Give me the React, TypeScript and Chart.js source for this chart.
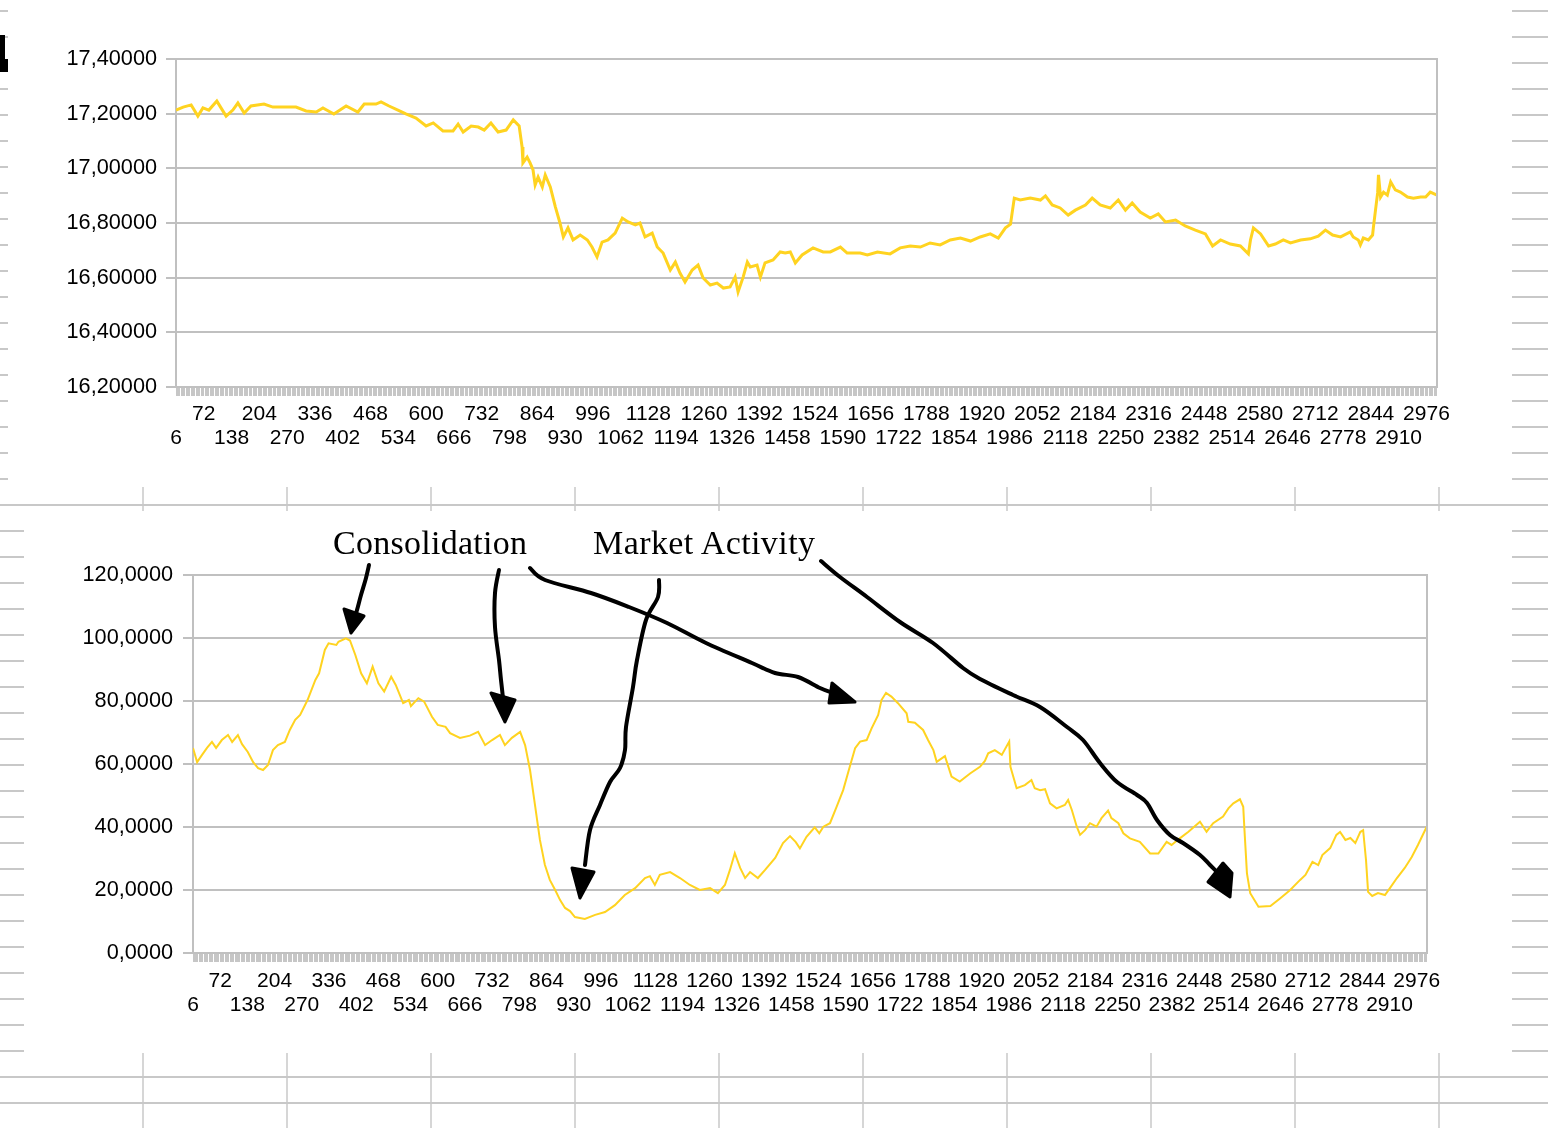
import React, { useEffect, useRef } from 'react';
import { Chart, registerables } from 'chart.js';

Chart.register(...registerables);

// ---------- DATA ----------
const tickLabels = [6, 72, 138, 204, 270, 336, 402, 468, 534, 600, 666, 732, 798, 864, 930, 996, 1062, 1128, 1194, 1260, 1326, 1392, 1458, 1524, 1590, 1656, 1722, 1788, 1854, 1920, 1986, 2052, 2118, 2184, 2250, 2316, 2382, 2448, 2514, 2580, 2646, 2712, 2778, 2844, 2910, 2976];

const priceIndex = [6, 23, 42, 58, 70, 84, 103, 125, 141, 153, 168, 184, 215, 236, 260, 291, 315, 339, 355, 381, 410, 438, 453, 481, 493, 512, 533, 552, 576, 600, 617, 640, 664, 676, 688, 707, 724, 738, 754, 771, 790, 807, 821, 828, 830, 840, 847, 854, 859, 866, 876, 883, 895, 907, 918, 926, 937, 949, 966, 983, 994, 1006, 1018, 1032, 1049, 1066, 1080, 1097, 1108, 1120, 1137, 1149, 1163, 1180, 1192, 1203, 1215, 1232, 1246, 1258, 1275, 1291, 1306, 1322, 1334, 1341, 1353, 1363, 1370, 1386, 1394, 1405, 1424, 1441, 1453, 1465, 1477, 1493, 1519, 1543, 1560, 1584, 1600, 1631, 1648, 1672, 1702, 1726, 1750, 1774, 1797, 1821, 1845, 1869, 1893, 1916, 1940, 1959, 1976, 1988, 1997, 2011, 2035, 2059, 2071, 2087, 2106, 2125, 2142, 2166, 2182, 2201, 2225, 2244, 2261, 2277, 2296, 2320, 2339, 2356, 2380, 2403, 2427, 2451, 2468, 2487, 2510, 2534, 2553, 2558, 2565, 2582, 2601, 2617, 2636, 2653, 2677, 2700, 2719, 2736, 2753, 2772, 2795, 2802, 2814, 2819, 2826, 2838, 2848, 2850, 2855, 2860, 2862, 2867, 2874, 2883, 2891, 2902, 2914, 2931, 2945, 2962, 2974, 2985, 3001];

const priceValues = [17.213, 17.224, 17.232, 17.191, 17.221, 17.213, 17.246, 17.191, 17.213, 17.239, 17.202, 17.228, 17.235, 17.224, 17.224, 17.224, 17.210, 17.206, 17.221, 17.199, 17.228, 17.206, 17.235, 17.235, 17.243, 17.228, 17.213, 17.199, 17.184, 17.155, 17.166, 17.137, 17.137, 17.162, 17.133, 17.155, 17.151, 17.140, 17.166, 17.133, 17.140, 17.177, 17.155, 17.078, 17.020, 17.041, 17.020, 16.994, 16.939, 16.968, 16.932, 16.976, 16.932, 16.859, 16.800, 16.749, 16.782, 16.738, 16.756, 16.738, 16.712, 16.676, 16.730, 16.738, 16.763, 16.818, 16.804, 16.793, 16.800, 16.749, 16.763, 16.712, 16.690, 16.628, 16.657, 16.617, 16.584, 16.628, 16.646, 16.599, 16.573, 16.580, 16.562, 16.566, 16.602, 16.548, 16.602, 16.657, 16.639, 16.646, 16.602, 16.654, 16.665, 16.694, 16.690, 16.694, 16.654, 16.683, 16.709, 16.694, 16.694, 16.712, 16.690, 16.690, 16.683, 16.694, 16.687, 16.709, 16.716, 16.712, 16.727, 16.720, 16.738, 16.745, 16.734, 16.749, 16.760, 16.745, 16.782, 16.796, 16.891, 16.884, 16.891, 16.884, 16.899, 16.866, 16.855, 16.829, 16.847, 16.866, 16.891, 16.866, 16.855, 16.884, 16.847, 16.873, 16.840, 16.818, 16.833, 16.804, 16.811, 16.789, 16.774, 16.760, 16.716, 16.738, 16.723, 16.716, 16.687, 16.738, 16.782, 16.760, 16.716, 16.723, 16.738, 16.727, 16.738, 16.742, 16.752, 16.774, 16.756, 16.749, 16.767, 16.749, 16.738, 16.720, 16.745, 16.738, 16.756, 16.785, 16.848, 16.910, 16.976, 16.895, 16.913, 16.902, 16.950, 16.921, 16.913, 16.895, 16.891, 16.895, 16.895, 16.913, 16.902];

const activityIndex = [6, 16, 28, 40, 52, 62, 76, 91, 101, 115, 125, 139, 152, 164, 176, 188, 200, 212, 229, 241, 254, 266, 284, 303, 312, 326, 335, 354, 359, 377, 387, 400, 414, 428, 442, 456, 470, 487, 498, 516, 530, 535, 553, 567, 586, 600, 619, 630, 654, 678, 698, 715, 732, 751, 763, 780, 800, 812, 824, 836, 848, 860, 872, 885, 897, 909, 921, 933, 957, 982, 1006, 1030, 1054, 1079, 1103, 1115, 1127, 1139, 1164, 1188, 1212, 1236, 1261, 1280, 1297, 1309, 1321, 1334, 1346, 1358, 1377, 1394, 1419, 1438, 1455, 1469, 1479, 1495, 1515, 1526, 1536, 1552, 1568, 1584, 1600, 1613, 1625, 1641, 1653, 1669, 1677, 1688, 1701, 1717, 1738, 1742, 1758, 1778, 1790, 1803, 1811, 1831, 1847, 1867, 1892, 1916, 1928, 1936, 1952, 1969, 1987, 1990, 2005, 2025, 2041, 2049, 2062, 2074, 2086, 2102, 2122, 2130, 2139, 2151, 2159, 2171, 2183, 2199, 2211, 2227, 2235, 2252, 2264, 2280, 2304, 2329, 2349, 2369, 2381, 2401, 2422, 2450, 2466, 2482, 2506, 2519, 2531, 2547, 2555, 2558, 2564, 2572, 2592, 2621, 2645, 2669, 2693, 2706, 2723, 2737, 2747, 2766, 2781, 2790, 2803, 2815, 2827, 2839, 2846, 2853, 2858, 2868, 2882, 2899, 2911, 2928, 2947, 2964, 2979, 2993, 3001];

const activityValues = [65.1, 60.6, 62.9, 65.1, 67.0, 65.1, 67.6, 69.2, 67.0, 69.2, 66.3, 63.8, 60.6, 58.7, 58.1, 59.7, 64.4, 66.0, 67.0, 70.8, 74.0, 75.6, 80.3, 86.7, 88.8, 96.2, 98.3, 97.8, 98.8, 99.9, 99.2, 94.6, 88.8, 85.6, 90.9, 85.6, 83.0, 87.7, 85.1, 79.3, 80.3, 78.4, 80.9, 79.8, 75.0, 72.4, 71.8, 69.8, 68.3, 69.0, 70.2, 66.0, 67.6, 69.2, 66.0, 68.3, 70.2, 66.0, 58.1, 47.0, 35.9, 28.0, 23.2, 20.0, 16.8, 14.3, 13.3, 11.4, 10.8, 12.1, 13.0, 15.2, 18.4, 20.6, 23.8, 24.4, 21.6, 24.8, 25.7, 23.8, 21.6, 20.0, 20.6, 19.0, 21.6, 26.3, 31.7, 27.0, 23.8, 25.7, 23.8, 26.3, 30.2, 34.9, 37.1, 35.2, 33.2, 36.9, 39.9, 38.0, 40.1, 41.2, 46.4, 51.7, 59.1, 65.0, 67.1, 67.6, 71.3, 75.6, 80.3, 82.6, 81.4, 79.3, 76.1, 73.4, 73.1, 70.8, 67.6, 64.4, 60.7, 62.5, 56.0, 54.4, 57.0, 59.1, 61.0, 63.4, 64.4, 62.9, 67.1, 59.1, 52.3, 53.3, 54.9, 52.3, 51.7, 52.0, 47.5, 45.9, 47.0, 48.6, 45.4, 40.1, 37.5, 39.0, 41.2, 40.1, 42.8, 45.2, 42.8, 41.2, 38.0, 36.4, 35.3, 31.6, 31.6, 35.3, 34.3, 36.4, 38.5, 41.7, 38.5, 41.2, 43.3, 45.9, 47.5, 48.8, 46.4, 39.0, 25.3, 19.0, 14.7, 14.9, 17.4, 20.0, 23.2, 24.8, 28.9, 27.9, 31.1, 33.3, 37.5, 38.4, 35.9, 36.5, 34.9, 38.4, 39.0, 29.5, 19.4, 18.1, 19.0, 18.4, 20.6, 23.8, 27.0, 30.5, 34.3, 38.1, 40.3];

const X_FIRST = 6;
const X_LAST = 3001;

// ---------- CHART ----------
const GRID = '#c0c0c0';
const LINE = '#ffd320';
const FONT = "'Liberation Sans', Arial, sans-serif";

const framePlugin = {
  id: 'frameRight',
  afterDatasetsDraw(chart: any) {
    const { ctx, chartArea } = chart;
    ctx.save();
    ctx.strokeStyle = GRID;
    ctx.lineWidth = 2;
    ctx.beginPath();
    ctx.moveTo(chartArea.right, chartArea.top - 1);
    ctx.lineTo(chartArea.right, chartArea.bottom);
    ctx.stroke();
    ctx.restore();
  },
};

type Props = {
  left: number; top: number; width: number; height: number;
  index: number[]; values: number[];
  yMin: number; yMax: number; yStep: number; decimals: number;
  lineWidth: number; yAxisWidth: number; padTop: number; padRight: number;
  xAxisHeight: number; xTickLen: number; xTickPad: number; yTickPad: number;
};

function LineChart(p: Props) {
  const ref = useRef<HTMLCanvasElement | null>(null);
  useEffect(() => {
    if (!ref.current) return;
    const chart = new Chart(ref.current, {
      type: 'line',
      data: {
        datasets: [{
          data: p.index.map((x, i) => ({ x, y: p.values[i] })),
          borderColor: LINE,
          borderWidth: p.lineWidth,
          pointRadius: 0,
          tension: 0,
          fill: false,
        }],
      },
      options: {
        animation: false,
        responsive: false,
        devicePixelRatio: 1,
        layout: { padding: { top: p.padTop, right: p.padRight, left: 0, bottom: 0 } },
        plugins: { legend: { display: false }, tooltip: { enabled: false } },
        scales: {
          x: {
            type: 'linear',
            min: X_FIRST,
            max: X_LAST,
            afterBuildTicks: (scale: any) => {
              const t: any[] = [];
              for (let v = X_FIRST; v <= X_LAST; v += 3) t.push({ value: v });
              scale.ticks = t;
            },
            afterFit: (scale: any) => { scale.height = p.xAxisHeight; },
            grid: { drawOnChartArea: false, drawTicks: true, tickLength: p.xTickLen, color: '#c6c6c6', lineWidth: 1 },
            border: { display: true, color: GRID, width: 2 },
            ticks: {
              autoSkip: false,
              maxRotation: 0,
              minRotation: 0,
              padding: p.xTickPad,
              color: '#000',
              font: { family: FONT, size: 21, lineHeight: 1.15 },
              callback: (v: any) => {
                const k = tickLabels.indexOf(Number(v));
                if (k < 0) return '';
                return k % 2 === 1 ? [String(tickLabels[k]), ''] : ['', String(tickLabels[k])];
              },
            },
          },
          y: {
            min: p.yMin,
            max: p.yMax,
            afterFit: (scale: any) => { scale.width = p.yAxisWidth; },
            grid: { color: GRID, lineWidth: 2, tickLength: 10, drawTicks: true },
            border: { display: true, color: GRID, width: 2 },
            ticks: {
              stepSize: p.yStep,
              padding: p.yTickPad,
              color: '#000',
              font: { family: FONT, size: 21.7 },
              callback: (v: any) => Number(v).toFixed(p.decimals).replace('.', ','),
            },
          },
        },
      },
      plugins: [framePlugin],
    } as any);
    return () => chart.destroy();
  }, []);
  return (
    <canvas
      ref={ref}
      width={p.width}
      height={p.height}
      style={{ position: 'absolute', left: p.left, top: p.top, width: p.width, height: p.height, background: '#fff', zIndex: 1 }}
    />
  );
}

// ---------- PAGE DECORATION ----------
function SheetGrid() {
  const rows: number[] = [];
  for (let y = 11; y < 1128; y += 26) rows.push(y);
  const cols: number[] = [];
  for (let x = 143; x < 1548; x += 144) cols.push(x);
  return (
    <svg width={1548} height={1128} style={{ position: 'absolute', left: 0, top: 0, zIndex: 0 }}>
      {rows.map((y) => <line key={'r' + y} x1={0} x2={1548} y1={y} y2={y} stroke="#c8c8c8" strokeWidth={2} />)}
      {cols.map((x) => <line key={'c' + x} x1={x} x2={x} y1={0} y2={1128} stroke="#c8c8c8" strokeWidth={1.5} />)}
    </svg>
  );
}

const pts = (a: number[][]) => a.map((q) => q.join(',')).join(' ');

// smooth freehand stroke through points (Catmull-Rom -> cubic Bezier)
function smooth(a: number[][]) {
  let d = `M${a[0][0]},${a[0][1]}`;
  for (let i = 0; i < a.length - 1; i++) {
    const p0 = a[Math.max(0, i - 1)];
    const p1 = a[i];
    const p2 = a[i + 1];
    const p3 = a[Math.min(a.length - 1, i + 2)];
    const c1x = p1[0] + (p2[0] - p0[0]) / 6;
    const c1y = p1[1] + (p2[1] - p0[1]) / 6;
    const c2x = p2[0] - (p3[0] - p1[0]) / 6;
    const c2y = p2[1] - (p3[1] - p1[1]) / 6;
    d += ` C${c1x.toFixed(1)},${c1y.toFixed(1)} ${c2x.toFixed(1)},${c2y.toFixed(1)} ${p2[0]},${p2[1]}`;
  }
  return d;
}

function Annotations() {
  const stroke = { fill: 'none', stroke: '#000', strokeWidth: 4, strokeLinecap: 'round' as const, strokeLinejoin: 'round' as const };
  const head = { fill: '#000', stroke: '#000', strokeWidth: 3, strokeLinejoin: 'round' as const };
  return (
    <svg width={1548} height={1128} style={{ position: 'absolute', left: 0, top: 0, zIndex: 2, pointerEvents: 'none' }}>
      <path d="M0,35 L5,35 L5,59 L8,59 L8,72 L0,72 Z" fill="#000" />
      <text x={333} y={554} fontFamily="'Liberation Serif', 'Times New Roman', serif" fontSize={34} textLength={194} lengthAdjust="spacing" fill="#000">Consolidation</text>
      <text x={593} y={554} fontFamily="'Liberation Serif', 'Times New Roman', serif" fontSize={34} textLength={222} lengthAdjust="spacing" fill="#000">Market Activity</text>
      {/* arrow 1 */}
      <path d={smooth([[369, 565], [366, 578], [361, 595], [357, 610], [354, 620]])} {...stroke} />
      <polygon points={pts([[344, 609], [364, 616], [351, 633]])} {...head} />
      {/* arrow 2 */}
      <path d={smooth([[499, 570], [495, 593], [495, 627], [499, 660], [501, 680], [503, 698]])} {...stroke} />
      <polygon points={pts([[491, 693], [515, 700], [505, 722]])} {...head} />
      {/* arrow 3 */}
      <path d={smooth([[530, 568], [545, 580], [591, 593], [629, 607], [667, 623], [706, 643], [752, 663], [775, 673], [798, 677], [820, 688], [833, 693]])} {...stroke} />
      <polygon points={pts([[832, 683], [829, 703], [855, 702]])} {...head} />
      {/* arrow 4 */}
      <path d={smooth([[659, 580], [658, 597], [646, 620], [637, 660], [633, 687], [626, 727], [625, 750], [620, 768], [610, 782], [600, 805], [590, 830], [585, 865]])} {...stroke} />
      <polygon points={pts([[572, 868], [594, 872], [580, 898]])} {...head} />
      {/* arrow 5 */}
      <path d={smooth([[821, 561], [840, 577], [867, 597], [900, 622], [933, 643], [963, 668], [980, 679], [1013, 695], [1040, 707], [1067, 727], [1083, 740], [1100, 763], [1117, 782], [1137, 795], [1147, 803], [1157, 820], [1170, 835], [1183, 843], [1200, 855], [1210, 865], [1222, 877]])} {...stroke} />
      <polygon points={pts([[1223, 863], [1208, 882], [1230, 897], [1232, 873]])} {...head} />
    </svg>
  );
}

export default function App() {
  return (
    <div style={{ position: 'absolute', left: 0, top: 0, width: 1548, height: 1128, background: '#fff', overflow: 'hidden' }}>
      <SheetGrid />
      <LineChart
        left={8} top={0} width={1504} height={487}
        index={priceIndex} values={priceValues}
        yMin={16.2} yMax={17.4} yStep={0.2} decimals={5}
        lineWidth={3} yAxisWidth={168} padTop={59} padRight={75}
        xAxisHeight={100} xTickLen={9} xTickPad={6} yTickPad={9}
      />
      <LineChart
        left={24} top={511} width={1488} height={542}
        index={activityIndex} values={activityValues}
        yMin={0} yMax={120} yStep={20} decimals={4}
        lineWidth={2} yAxisWidth={169} padTop={64} padRight={85}
        xAxisHeight={100} xTickLen={9} xTickPad={7} yTickPad={10}
      />
      <Annotations />
    </div>
  );
}
